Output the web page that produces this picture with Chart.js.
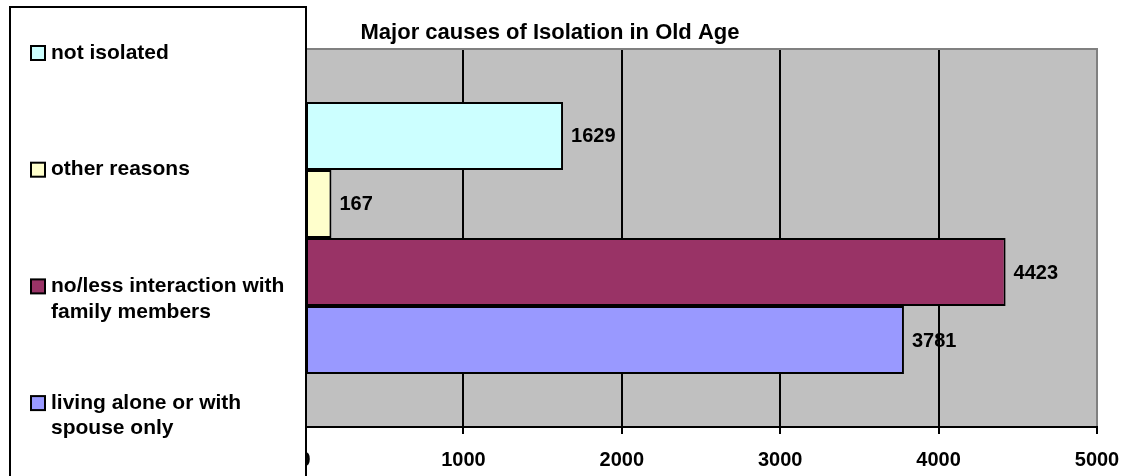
<!DOCTYPE html>
<html>
<head>
<meta charset="utf-8">
<script src="https://cdn.jsdelivr.net/npm/chart.js@4.4.1/dist/chart.umd.min.js"></script>
<style>
  html, body { margin: 0; padding: 0; background: #ffffff; }
  #wrap { width: 1131px; height: 476px; position: relative; }
</style>
</head>
<body>
<div id="wrap"><canvas id="c" width="1131" height="476"></canvas></div>
<script>
// ---- data ----
const chartTitle = 'Major causes of Isolation in Old Age';
const categories = [''];
const seriesNames = [
  'not isolated',
  'other reasons',
  'no/less interaction with family members',
  'living alone or with spouse only'
];
const seriesValues = [1629, 167, 4423, 3781];
const xTickValues = [0, 1000, 2000, 3000, 4000, 5000];

// ---- styles ----
const palette = ['#CCFFFF', '#FFFFCC', '#993366', '#9999FF'];
const FONT = "'Liberation Sans', Arial, Helvetica, sans-serif";

const datasets = seriesNames.map((name, i) => ({
  label: name,
  data: [seriesValues[i]],
  backgroundColor: palette[i],
  borderColor: '#000000',
  borderWidth: 2,
  borderSkipped: false,
  categoryPercentage: 0.72,
  barPercentage: 1.0
}));

function wrapText(ctx, text, maxWidth) {
  const words = text.split(' ');
  const lines = [];
  let cur = '';
  words.forEach(w => {
    const test = cur ? cur + ' ' + w : w;
    if (ctx.measureText(test).width > maxWidth && cur) {
      lines.push(cur);
      cur = w;
    } else {
      cur = test;
    }
  });
  if (cur) lines.push(cur);
  return lines;
}

const decorPlugin = {
  id: 'decor',
  beforeDraw(chart) {
    const ctx = chart.ctx;
    const a = chart.chartArea;
    ctx.save();
    // plot background
    ctx.fillStyle = '#C0C0C0';
    ctx.fillRect(a.left, a.top, a.right - a.left, a.bottom - a.top);
    // value labels (drawn under gridlines, as in the reference)
    ctx.fillStyle = '#000000';
    ctx.font = 'bold 20px ' + FONT;
    ctx.textAlign = 'left';
    ctx.textBaseline = 'middle';
    chart.data.datasets.forEach((ds, i) => {
      const meta = chart.getDatasetMeta(i);
      meta.data.forEach((bar, j) => {
        ctx.fillText(String(ds.data[j]), bar.x + 8, bar.y + 1);
      });
    });
    ctx.restore();
  },
  afterDraw(chart) {
    const ctx = chart.ctx;
    const a = chart.chartArea;
    ctx.save();
    // top border of plot area (gray)
    ctx.strokeStyle = '#808080';
    ctx.lineWidth = 2;
    ctx.beginPath();
    ctx.moveTo(a.left, a.top);
    ctx.lineTo(a.right + 1, a.top);
    ctx.stroke();

    // title
    ctx.fillStyle = '#000000';
    ctx.font = 'bold 22px ' + FONT;
    ctx.textAlign = 'center';
    ctx.textBaseline = 'middle';
    ctx.fillText(chartTitle, 550, 33);

    // legend box
    ctx.fillStyle = '#FFFFFF';
    ctx.fillRect(10, 7, 296, 480);
    ctx.strokeStyle = '#000000';
    ctx.lineWidth = 2;
    ctx.strokeRect(10, 7, 296, 480);

    ctx.font = 'bold 21px ' + FONT;
    ctx.textAlign = 'left';
    ctx.textBaseline = 'middle';
    const firstY = 53, step = 116.7, lineH = 25.5;
    chart.data.datasets.forEach((ds, i) => {
      const y = firstY + i * step;
      ctx.fillStyle = ds.backgroundColor;
      ctx.fillRect(31, y - 7, 14, 14);
      ctx.strokeStyle = '#000000';
      ctx.lineWidth = 2;
      ctx.strokeRect(31, y - 7, 14, 14);
      ctx.fillStyle = '#000000';
      const lines = wrapText(ctx, ds.label, 245);
      lines.forEach((ln, k) => ctx.fillText(ln, 51, y + k * lineH));
    });
    ctx.restore();
  }
};

new Chart(document.getElementById('c'), {
  type: 'bar',
  data: { labels: categories, datasets: datasets },
  plugins: [decorPlugin],
  options: {
    indexAxis: 'y',
    responsive: false,
    animation: false,
    layout: { padding: { left: 305, right: 34, top: 49, bottom: 0 } },
    plugins: {
      legend: { display: false },
      title: { display: false },
      tooltip: { enabled: false }
    },
    scales: {
      y: { display: false },
      x: {
        min: 0,
        max: 5000,
        afterBuildTicks(scale) {
          scale.ticks = xTickValues.map(v => ({ value: v }));
        },
        afterFit(scale) {
          scale.height = 49;
          scale.paddingLeft = 0;
          scale.paddingRight = 0;
        },
        grid: {
          color: ctx => (ctx.tick && ctx.tick.value === 5000) ? '#808080' : '#000000',
          lineWidth: 2,
          tickLength: 7,
          tickColor: '#000000',
          drawTicks: true
        },
        border: { display: true, color: '#000000', width: 2 },
        ticks: {
          color: '#000000',
          padding: 14,
          font: { family: FONT, size: 20, weight: 'bold' },
          callback: (v) => String(v)
        }
      }
    }
  }
});
</script>
</body>
</html>
